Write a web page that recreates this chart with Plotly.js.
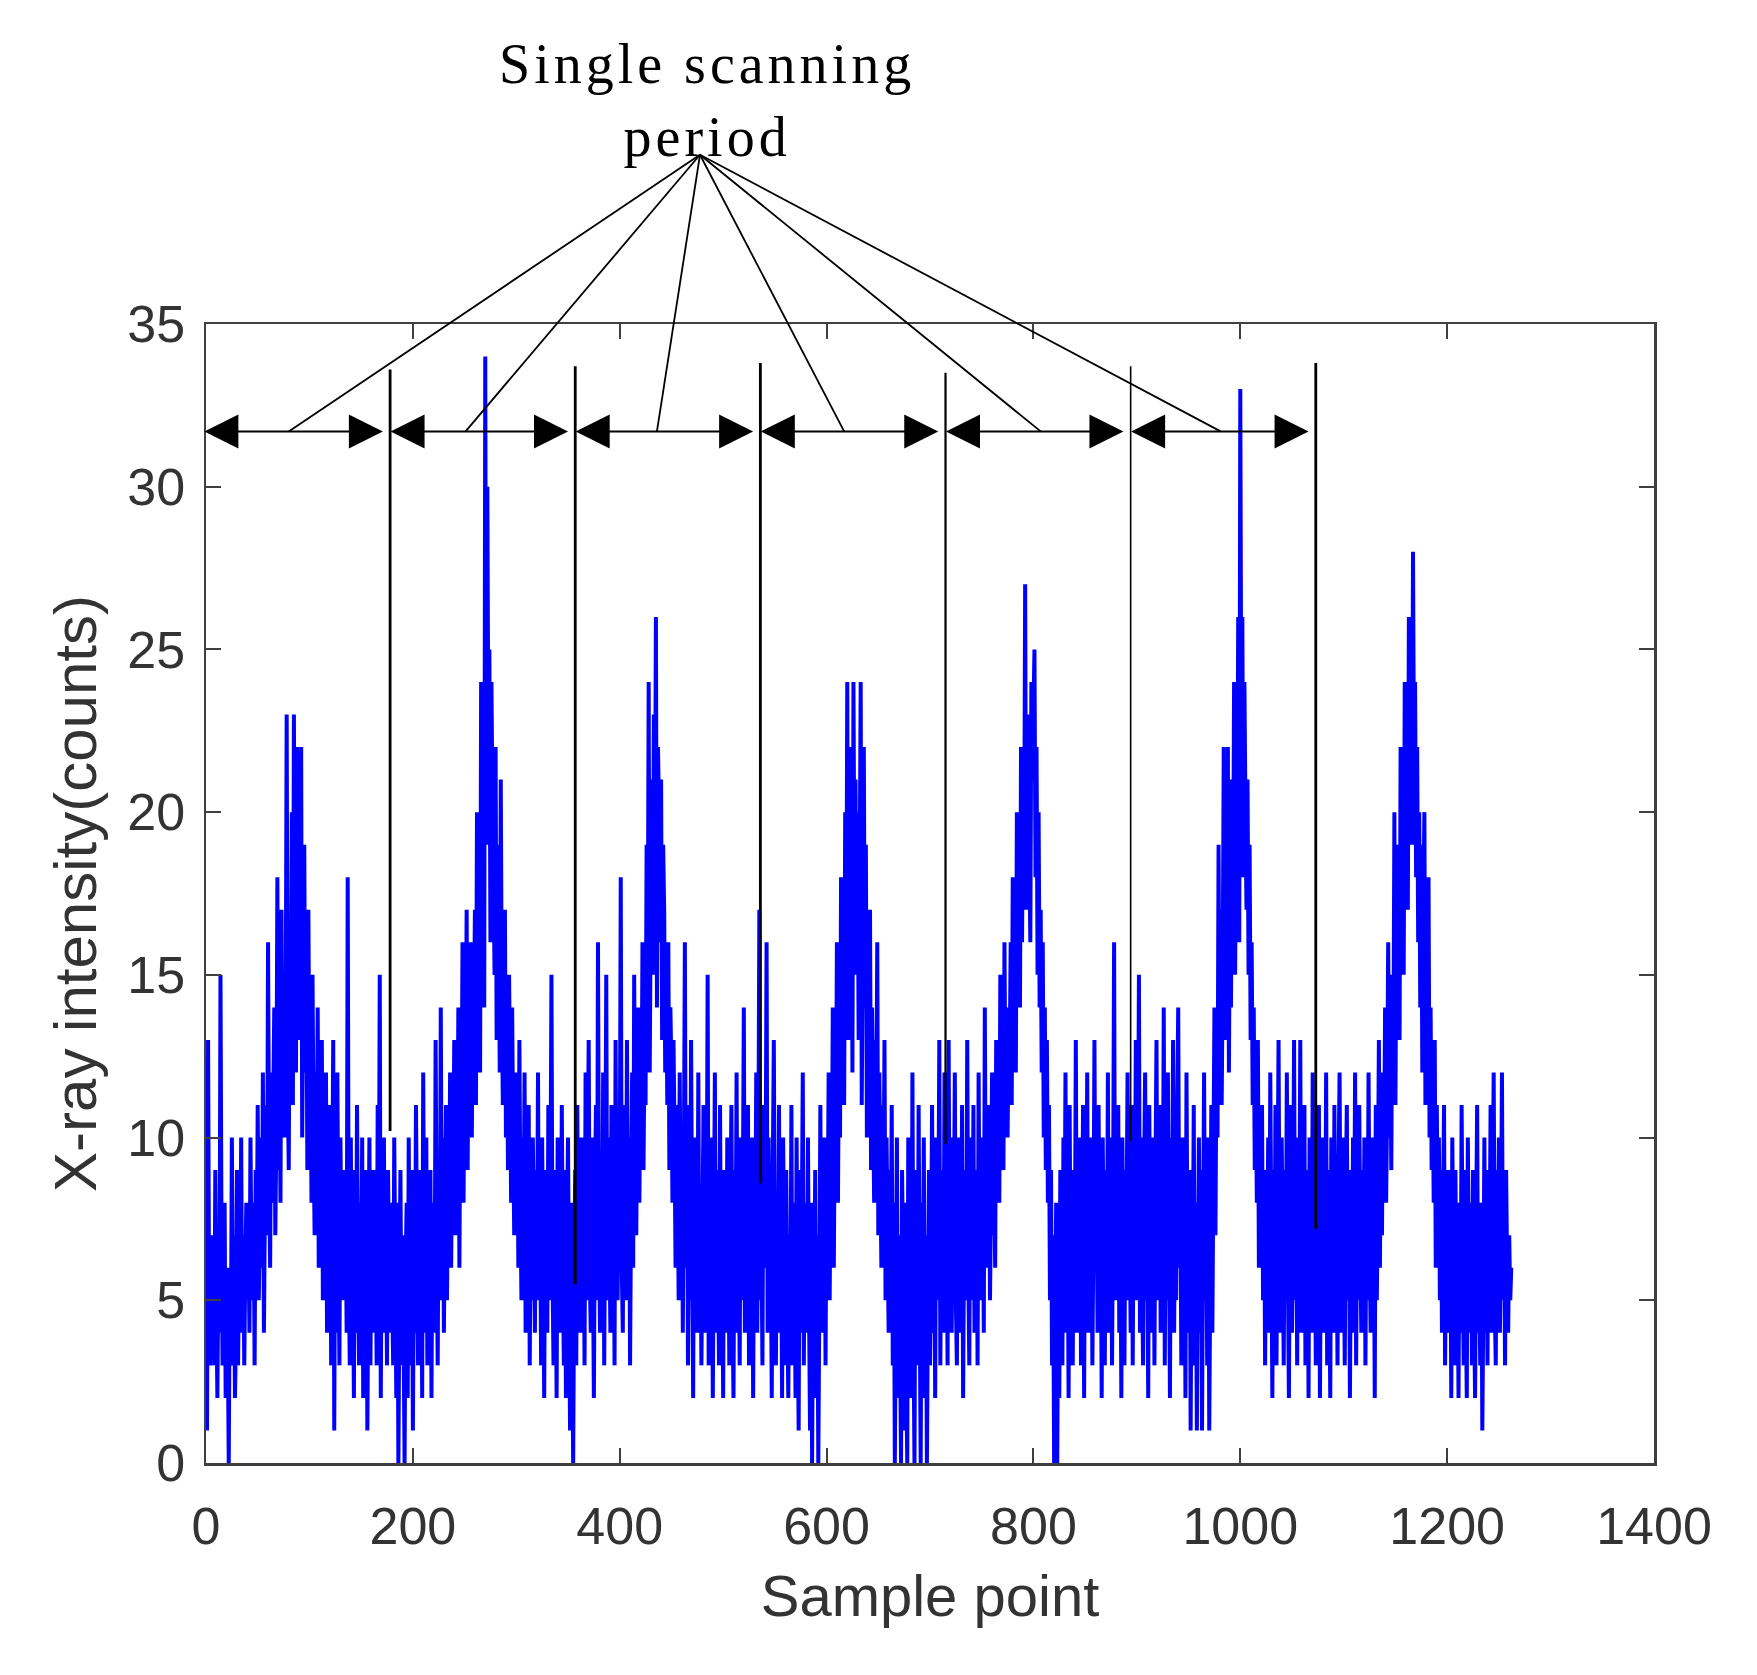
<!DOCTYPE html>
<html>
<head>
<meta charset="utf-8">
<script src="https://cdn.plot.ly/plotly-3.0.1.min.js"></script>
<style>
html,body{margin:0;padding:0;background:#fff;}
#chart{width:1757px;height:1675px;}
.annotation-text{letter-spacing:4px;}
</style>
</head>
<body>
<div id="chart"></div>
<script>
// X-ray intensity counts per sample point (sample 1..N)
const counts = [
1,13,5,3,7,4,6,3,9,5,2,6,4,15,7,3,5,8,2,6,
4,0,6,3,10,5,7,2,4,9,3,6,5,10,4,7,3,6,8,5,
7,4,10,6,5,8,3,9,6,11,5,7,10,6,12,4,8,11,7,16,
9,6,12,8,11,14,7,10,18,9,13,8,17,11,15,10,13,23,12,9,
16,14,20,11,23,15,12,22,18,13,17,22,10,14,19,12,16,9,17,11,
13,8,15,10,7,12,9,14,6,11,8,13,5,10,7,12,4,9,6,11,
3,8,13,1,9,4,12,7,3,10,6,5,9,5,8,4,18,6,3,10,
5,7,2,9,4,11,6,3,8,5,10,2,7,4,9,1,6,10,3,8,
5,9,4,7,3,11,6,15,2,8,5,10,4,7,3,9,6,4,8,5,
3,10,6,2,8,0,5,9,3,7,4,0,6,8,2,10,5,3,9,1,
6,4,11,7,3,9,5,8,2,12,6,4,10,3,7,5,9,2,8,6,
4,13,7,3,9,5,14,6,10,4,8,11,5,9,7,12,6,10,8,13,
7,11,9,14,6,12,10,16,8,13,11,17,9,15,12,16,10,14,13,17,
11,20,15,18,12,24,17,21,14,34,19,30,22,25,16,24,20,18,15,22,
13,19,17,12,21,14,11,16,17,10,13,9,15,12,8,14,10,7,12,9,
11,6,13,8,5,10,7,12,4,9,6,11,3,8,5,10,7,4,9,6,
12,5,8,3,10,6,2,9,7,4,11,5,8,15,6,3,9,7,2,10,
5,8,4,11,6,3,9,2,7,10,5,1,8,4,0,6,9,3,11,5,
7,4,10,6,8,3,12,5,9,13,6,4,10,7,2,8,11,5,16,7,
4,9,6,12,3,8,15,5,10,7,4,11,6,9,3,13,7,5,10,8,
18,6,4,11,9,5,13,7,10,3,8,12,6,15,9,7,11,14,8,12,
10,16,9,13,11,19,14,24,12,17,21,15,23,18,26,14,22,20,16,21,
13,19,17,12,15,11,16,9,14,12,8,13,10,6,11,9,5,12,7,10,
4,9,16,6,11,3,8,5,13,7,2,10,6,9,4,12,5,8,3,7,
11,4,9,6,15,3,8,5,10,2,7,12,4,9,6,3,11,5,8,2,
9,6,4,10,7,3,8,11,5,2,9,6,12,4,7,3,10,5,8,14,
4,9,6,11,3,7,5,10,2,8,6,12,4,9,17,5,7,3,11,6,
8,16,4,10,5,7,2,9,13,6,3,8,5,11,4,7,2,10,6,3,
9,5,2,7,4,11,3,8,6,2,10,5,1,9,4,7,12,3,8,6,
4,10,5,1,8,0,6,3,9,2,7,0,5,11,4,8,6,10,3,9,
7,12,5,10,8,14,6,11,9,16,8,13,10,18,12,17,11,20,14,24,
13,19,16,22,12,24,17,21,15,20,13,18,24,11,16,22,14,19,10,15,
12,17,9,14,11,8,13,10,16,7,12,9,6,11,8,13,5,10,7,4,
9,6,11,3,8,0,5,10,2,7,4,0,9,6,1,8,3,0,10,5,
7,2,12,4,0,9,6,3,11,5,0,8,4,10,2,7,0,5,9,3,
6,11,4,8,2,10,5,7,13,3,9,6,4,12,5,8,3,13,6,10,
4,9,7,12,5,3,10,6,8,4,11,2,7,9,5,13,6,3,10,8,
5,11,4,7,9,3,12,6,8,5,10,4,14,7,9,6,11,5,8,12,
7,10,6,13,9,11,8,15,10,12,9,16,11,14,10,13,12,16,11,18,
13,17,12,20,15,19,14,22,16,21,18,27,17,23,20,19,16,24,21,23,
25,18,22,15,20,14,17,12,16,10,14,9,13,8,11,5,9,3,7,0,
4,8,0,6,2,9,5,3,10,6,12,4,8,2,11,5,7,3,9,6,
13,4,8,5,10,3,7,11,2,9,6,12,4,8,5,10,3,7,13,6,
9,4,11,5,8,2,10,6,3,9,5,12,4,7,10,3,8,16,5,9,
6,11,4,8,2,10,6,3,9,7,12,5,8,4,11,3,9,6,13,5,
8,15,4,10,6,3,9,12,5,7,2,11,6,8,4,10,3,9,13,5,
7,11,4,8,6,14,3,9,5,12,7,2,10,6,13,4,8,5,11,14,
6,9,3,10,5,8,2,12,6,4,9,1,7,5,11,3,8,1,6,10,
4,9,1,7,12,5,8,3,10,1,6,11,4,9,14,7,13,10,19,12,
17,11,15,22,13,20,16,22,12,18,14,21,17,24,15,20,19,26,16,33,
22,26,18,24,20,17,21,15,19,13,16,11,14,9,12,8,13,6,10,7,
11,5,9,3,8,6,10,4,12,7,2,9,5,11,3,8,13,6,4,10,
7,3,9,5,12,6,2,8,11,4,7,13,5,9,3,10,6,13,4,8,
5,11,3,7,9,2,10,6,4,12,5,8,3,9,6,11,2,7,10,4,
8,5,12,3,9,6,2,10,7,4,11,5,8,3,9,12,6,4,10,7,
3,8,11,5,9,2,7,4,10,6,12,3,8,5,11,7,4,9,6,10,
3,8,5,12,7,4,10,6,9,2,11,5,8,13,6,10,7,12,9,14,
8,11,16,10,13,9,15,12,20,11,17,14,19,13,22,16,21,15,24,18,
22,17,26,20,25,19,28,21,24,18,22,16,20,14,19,12,17,20,11,15,
13,18,10,14,9,12,8,13,6,11,7,10,5,9,4,8,11,3,7,5,
9,4,8,2,10,6,3,9,5,7,2,8,4,11,6,3,9,5,2,10,
6,4,8,3,9,5,2,7,11,4,6,3,8,1,5,10,4,7,3,9,
6,11,4,8,12,5,3,9,6,10,4,7,12,5,8,3,9,6,4,7,
5,6
];

// Axis ticks
const xTicks = [0, 200, 400, 600, 800, 1000, 1200, 1400];
const yTicks = [0, 5, 10, 15, 20, 25, 30, 35];

// Scanning period boundaries (sample point) and their vertical extents (counts)
const boundaryX      = [178, 357, 536, 715, 894, 1073];
const boundaryTop    = [33.6, 33.7, 33.8, 33.5, 33.7, 33.8];
const boundaryBottom = [10.2, 5.5, 8.6, 9.8, 9.9, 7.2];

// Double arrows for each period (sample point), drawn at a fixed count level
const arrowStart = [-3, 177, 356, 535, 714, 893];
const arrowEnd   = [171, 350, 529, 708, 887, 1066];
const arrowLevel = 31.7;

// Leader lines from the label to each arrow
const leaderEndX = [80, 251, 436, 617, 807, 981];
const leaderOrigin = {x: 477.6, y: 40.2};

const labelText = 'Single scanning<br>period';

const X_MAX = 1400, Y_MAX = 35;
const xs = counts.map((_, i) => i + 1);

const trace = {
  x: xs, y: counts, type: 'scatter', mode: 'lines',
  line: {color: 'rgb(0,0,255)', width: 4, simplify: false},
  hoverinfo: 'skip', showlegend: false
};

const axisCommon = {
  showline: true, mirror: 'ticks', linecolor: '#404040', linewidth: 2.5,
  ticks: 'inside', ticklen: 15, tickwidth: 2, tickcolor: '#404040',
  showgrid: false, zeroline: false,
  tickfont: {family: 'Liberation Sans, Arial, sans-serif', size: 52, color: '#333'}
};

const shapes = [];
const bw = [2.8, 2.8, 2.8, 2.2, 1.6, 2.8];
boundaryX.forEach((bx, i) => {
  shapes.push({type: 'line', xref: 'x', yref: 'y', x0: bx, x1: bx,
    y0: boundaryBottom[i], y1: boundaryTop[i], line: {color: '#000', width: bw[i]}});
});
leaderEndX.forEach(ex => {
  shapes.push({type: 'line', xref: 'paper', yref: 'paper',
    x0: leaderOrigin.x / X_MAX, y0: leaderOrigin.y / Y_MAX,
    x1: ex / X_MAX, y1: arrowLevel / Y_MAX,
    line: {color: '#000', width: 1.8}});
});

const annotations = [];
arrowStart.forEach((sx, i) => {
  annotations.push({
    xref: 'x', yref: 'y', axref: 'x', ayref: 'y',
    x: arrowEnd[i], y: arrowLevel, ax: sx, ay: arrowLevel,
    text: '', showarrow: true, arrowside: 'end+start',
    arrowhead: 2, startarrowhead: 2, arrowsize: 3.4, startarrowsize: 3.4,
    arrowwidth: 2, arrowcolor: '#000'
  });
});
annotations.push({
  xref: 'paper', yref: 'paper', x: 0.346, y: 1.196,
  xanchor: 'center', yanchor: 'middle', showarrow: false,
  text: labelText, align: 'center',
  font: {family: 'Liberation Serif, Times New Roman, serif', size: 56, color: '#000'}
});

const layout = {
  width: 1757, height: 1675,
  margin: {l: 206, r: 103, t: 324, b: 212, pad: 0},
  paper_bgcolor: '#fff', plot_bgcolor: '#fff',
  xaxis: Object.assign({}, axisCommon, {
    range: [0, X_MAX], tickvals: xTicks, ticktext: xTicks.map(String),
    ticklabelstandoff: 16,
    title: {text: 'Sample point', standoff: 22,
      font: {family: 'Liberation Sans, Arial, sans-serif', size: 58, color: '#333'}}
  }),
  yaxis: Object.assign({}, axisCommon, {
    range: [0, Y_MAX], tickvals: yTicks, ticktext: yTicks.map(String),
    ticklabelstandoff: 8,
    title: {text: 'X-ray intensity(counts)', standoff: 12,
      font: {family: 'Liberation Sans, Arial, sans-serif', size: 60, color: '#333'}}
  }),
  shapes: shapes,
  annotations: annotations
};

Plotly.newPlot('chart', [trace], layout, {staticPlot: true, displayModeBar: false});
</script>
</body>
</html>
